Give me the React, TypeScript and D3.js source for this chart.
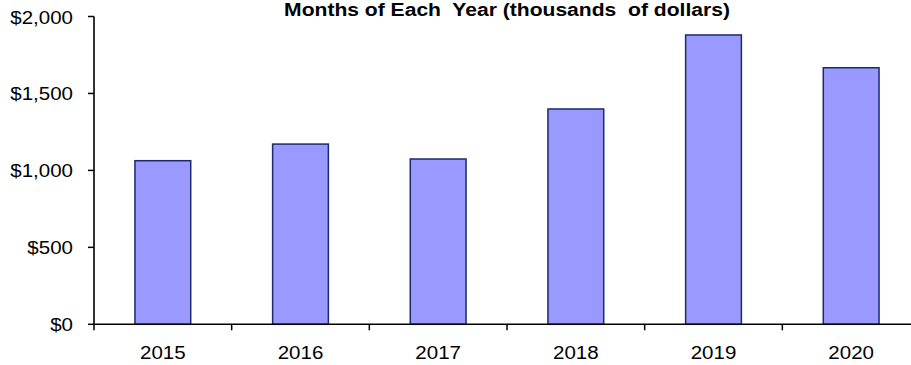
import React from "react";
import * as d3 from "d3";

const years: string[] = ["2015", "2016", "2017", "2018", "2019", "2020"];
const sales: number[] = [1063, 1171, 1074, 1399, 1880, 1667];
const yTicks: number[] = [0, 500, 1000, 1500, 2000];
const titleText = "Months of Each  Year (thousands  of dollars)";

const W = 911;
const H = 365;
const left = 94;
const right = 920;
const top = 16.5;
const bottom = 324.3;
const FONT = "'Liberation Sans', Arial, Helvetica, sans-serif";
const SX = 1.08;

export default function App() {
  const cat = d3.scaleBand<string>().domain(years).range([left, right]).padding(0);
  const bars = d3
    .scaleBand<string>()
    .domain(years)
    .range([left, right])
    .paddingInner(0.595)
    .paddingOuter(0.2975);
  const y = d3.scaleLinear().domain([0, 2000]).range([bottom, top]);
  const fmt = (v: number) => "$" + d3.format(",")(v);

  const boundaries = years.map((c) => cat(c) as number).concat([right]);

  return (
    <svg
      width={W}
      height={H}
      style={{ position: "absolute", left: 0, top: 0, display: "block", background: "#fff" }}
    >
      <rect x={0} y={0} width={W} height={H} fill="#fff" />
      <text
        transform={`translate(${(left + right) / 2}, 16) scale(1.11,1)`}
        textAnchor="middle"
        fontFamily={FONT}
        fontWeight="bold"
        fontSize={19}
        fill="#000"
        style={{ whiteSpace: "pre" }}
      >
        {titleText}
      </text>

      {years.map((c, i) => (
        <rect
          key={c}
          x={bars(c)}
          y={y(sales[i])}
          width={bars.bandwidth()}
          height={bottom - y(sales[i])}
          fill="#9999ff"
          stroke="#1b2a6b"
          strokeWidth={1.5}
        />
      ))}

      {/* y axis */}
      <line x1={left} x2={left} y1={top} y2={bottom} stroke="#000" strokeWidth={1.6} />
      {yTicks.map((t) => (
        <g key={t}>
          <line x1={left - 6} x2={left} y1={y(t)} y2={y(t)} stroke="#000" strokeWidth={1.5} />
          <text
            transform={`translate(73, ${y(t) + 7}) scale(${SX},1)`}
            textAnchor="end"
            fontFamily={FONT}
            fontSize={19}
            fill="#000"
          >
            {fmt(t)}
          </text>
        </g>
      ))}

      {/* x axis */}
      <line x1={left} x2={right} y1={bottom} y2={bottom} stroke="#000" strokeWidth={1.6} />
      {boundaries.map((b, i) => (
        <line key={i} x1={b} x2={b} y1={bottom} y2={bottom + 6} stroke="#000" strokeWidth={1.5} />
      ))}
      {years.map((c) => (
        <text
          key={c}
          transform={`translate(${(cat(c) as number) + cat.bandwidth() / 2}, 358.5) scale(${SX},1)`}
          textAnchor="middle"
          fontFamily={FONT}
          fontSize={19}
          fill="#000"
        >
          {c}
        </text>
      ))}
    </svg>
  );
}
